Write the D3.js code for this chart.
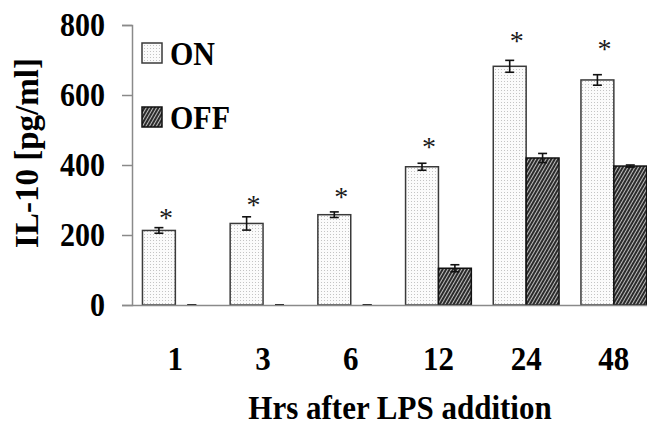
<!DOCTYPE html>
<html>
<head>
  <script src="https://cdn.jsdelivr.net/npm/d3@7/dist/d3.min.js"></script>
  <style>
    body { margin: 0; background: #fff; }
    text { font-family: 'Liberation Serif', 'Times New Roman', serif; font-weight: bold; fill: #000; }
    .axis path, .axis line { stroke: #8a8a8a; stroke-width: 1.5; }
  </style>
</head>
<body>
  <svg id="chart"></svg>
  <script>
    // values
    var hours = ['1', '3', '6', '12', '24', '48'];
    var series = ['ON', 'OFF'];
    var onVals = [213, 233, 258, 395, 682, 643];
    var onErr = [8, 19, 8, 10, 17, 15];
    var offVals = [0, 0, 0, 105, 420, 397];
    var offErr = [0, 0, 0, 10, 13, 3];
    var starVals = [257, 293, 317, 460, 763, 740];
    var yTicks = [0, 200, 400, 600, 800];

    var W = 647, H = 427;
    var sy = 1.12; // the original lettering is a bit taller than wide
    var svg = d3.select('#chart').attr('width', W).attr('height', H);

    var defs = svg.append('defs');
    var dots = defs.append('pattern').attr('id', 'dots')
      .attr('width', 3).attr('height', 3).attr('patternUnits', 'userSpaceOnUse');
    dots.append('rect').attr('width', 3).attr('height', 3).attr('fill', '#fbfbfb');
    dots.append('rect').attr('width', 1).attr('height', 1).attr('fill', '#c4c4c4');

    var hatch = defs.append('pattern').attr('id', 'hatch')
      .attr('width', 3).attr('height', 3).attr('patternUnits', 'userSpaceOnUse')
      .attr('patternTransform', 'rotate(30)');
    hatch.append('rect').attr('width', 3).attr('height', 3).attr('fill', '#2b2b2b');
    hatch.append('rect').attr('width', 1).attr('height', 3).attr('fill', '#bdbdbd');

    var x0 = d3.scaleBand()
      .domain(hours)
      .range([131.5, 131.5 + 6 * 87.7])
      .paddingInner(0.25)
      .paddingOuter(0.125);

    var x1 = d3.scaleBand()
      .domain(series)
      .range([0, x0.bandwidth()]);

    var y = d3.scaleLinear()
      .domain([0, 800])
      .range([305, 25]);

    var fills = { ON: 'url(#dots)', OFF: 'url(#hatch)' };
    var strokes = { ON: '#3a3a3a', OFF: '#111' };

    var rows = [];
    hours.forEach(function (h, i) {
      rows.push({ h: h, s: 'ON', v: onVals[i], e: onErr[i] });
      rows.push({ h: h, s: 'OFF', v: offVals[i], e: offErr[i] });
    });

    svg.append('g').selectAll('rect')
      .data(rows.filter(d => d.v > 0))
      .enter()
      .append('rect')
      .attr('x', d => x0(d.h) + x1(d.s))
      .attr('y', d => y(d.v))
      .attr('width', x1.bandwidth())
      .attr('height', d => y(0) - y(d.v))
      .attr('fill', d => fills[d.s])
      .attr('stroke', d => strokes[d.s])
      .attr('stroke-width', 1.5);

    // error bars
    var eb = svg.append('g').attr('stroke', '#111').attr('stroke-width', 1.6);
    rows.forEach(function (d) {
      var cx = x0(d.h) + x1(d.s) + x1.bandwidth() / 2;
      eb.append('line').attr('x1', cx).attr('x2', cx).attr('y1', y(d.v + d.e)).attr('y2', y(d.v - d.e));
      eb.append('line').attr('x1', cx - 4.5).attr('x2', cx + 4.5).attr('y1', y(d.v + d.e)).attr('y2', y(d.v + d.e));
      eb.append('line').attr('x1', cx - 4.5).attr('x2', cx + 4.5).attr('y1', y(d.v - d.e)).attr('y2', y(d.v - d.e));
    });

    // significance stars
    svg.append('g').selectAll('text')
      .data(hours)
      .enter()
      .append('text')
      .attr('x', (d, i) => x0(d) + x1('ON') + x1.bandwidth() / 2 + 7)
      .attr('y', (d, i) => y(starVals[i]) + 12)
      .attr('text-anchor', 'middle')
      .style('font-weight', 'normal')
      .style('font-size', '28px')
      .style('fill', '#1a1a1a')
      .text('*');

    var yAxis = d3.axisLeft(y).tickValues(yTicks).tickSize(10).tickPadding(17);
    svg.append('g')
      .attr('class', 'axis')
      .attr('transform', 'translate(132,0)')
      .call(yAxis)
      .call(g => g.selectAll('text')
        .attr('transform', 'scale(1,' + sy + ')')
        .style('font-size', '30px'));

    var xAxis = d3.axisBottom(x0).tickSize(0);
    svg.append('g')
      .attr('class', 'axis')
      .attr('transform', 'translate(0,305)')
      .call(xAxis)
      .call(g => g.selectAll('text')
        .attr('dy', null)
        .attr('y', 65 / sy)
        .attr('transform', 'scale(1,' + sy + ')')
        .style('font-size', '31px'));

    svg.append('text')
      .attr('transform', 'translate(400,419) scale(1,' + sy + ')')
      .attr('text-anchor', 'middle')
      .style('font-size', '31px')
      .text('Hrs after LPS addition');

    svg.append('text')
      .attr('transform', 'translate(38,153) rotate(-90)')
      .attr('text-anchor', 'middle')
      .style('font-size', '33px')
      .text('IL-10 [pg/ml]');

    // legend
    var legend = svg.append('g');
    series.forEach(function (s, i) {
      legend.append('rect')
        .attr('x', 142).attr('y', 43 + i * 64)
        .attr('width', 20).attr('height', 20)
        .attr('fill', fills[s])
        .attr('stroke', strokes[s])
        .attr('stroke-width', 1.5);
      legend.append('text')
        .attr('transform', 'translate(170,' + (65 + i * 64) + ') scale(1,' + sy + ')')
        .style('font-size', '30px')
        .text(s);
    });
  </script>
</body>
</html>
